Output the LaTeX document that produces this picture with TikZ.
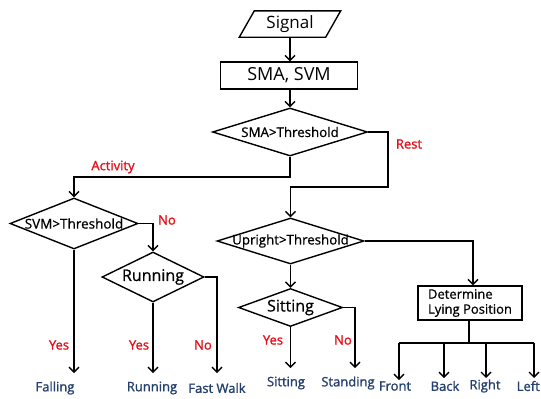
\documentclass[tikz,border=0pt]{standalone}
\usepackage{fontspec}
\setmainfont{Open Sans}
\newfontfamily\semib[FakeBold=1.3]{Open Sans}
\newfontfamily\medb[FakeBold=0.7]{Open Sans}
\usetikzlibrary{arrows.meta,shapes.geometric}
\definecolor{redlbl}{HTML}{E5101A}
\definecolor{bluelbl}{HTML}{24406E}
\tikzset{
  ln/.style={line width=1.4pt,black},
  arr/.style={ln,-{Straight Barb[length=5pt,width=10pt]}},
  dec/.style={diamond,draw,line width=1.4pt,inner sep=0pt,aspect=2},
  procbox/.style={rectangle,draw,line width=1.4pt,inner sep=0pt},
  redtxt/.style={text=redlbl,font=\semib\fontsize{13}{15}\selectfont,inner sep=0pt},
  outtxt/.style={text=bluelbl,font=\semib\fontsize{13}{15}\selectfont,inner sep=0pt},
}
\begin{document}
\begin{tikzpicture}[x=1pt,y=-1pt]
\useasboundingbox (0,0) rectangle (541,399);
% Signal parallelogram
\node (sig) [minimum width=86pt,minimum height=26pt,inner sep=0pt,font=\fontsize{17}{20}\selectfont] at (290,24) {Signal};
\draw[ln] ([xshift=7.5pt]sig.north west) -- ([xshift=7.5pt]sig.north east) -- ([xshift=-7.5pt]sig.south east) -- ([xshift=-7.5pt]sig.south west) -- cycle;
% SMA, SVM box
\node (calc) [procbox,minimum width=137pt,minimum height=27pt,font=\fontsize{18}{20}\selectfont] at (289,75.5) {SMA, SVM};
% diamonds
\node (sma) [dec,minimum width=155pt,minimum height=48pt] at (290,132) {\makebox[0pt]{\medb\fontsize{13.3}{15}\selectfont SMA>Threshold}};
\node (svm) [dec,minimum width=128pt,minimum height=51pt] at (74,223.5) {\makebox[0pt]{\medb\fontsize{13.5}{15}\selectfont SVM>Threshold}};
\node (run) [dec,minimum width=102pt,minimum height=50pt] at (153,277) {\makebox[0pt]{\medb\fontsize{16}{18}\selectfont Running}};
\node (up) [dec,minimum width=147pt,minimum height=46pt] at (290.5,241) {\makebox[0pt]{\medb\fontsize{13.3}{15}\selectfont Upright>Threshold}};
\node (sit) [dec,minimum width=104pt,minimum height=38pt] at (290.5,307.5) {\makebox[0pt]{\medb\fontsize{16}{18}\selectfont Sitting}};
% Determine box
\node (det) [procbox,minimum width=104pt,minimum height=34pt,font=\medb\fontsize{13}{15}\selectfont,align=left] at (470,303) {Determine\\Lying Position};
% junctions and ends
\coordinate (jact) at (290,177);
\coordinate (jrest) at (388,187);
\coordinate (tfall) at (74,373);
\coordinate (trun) at (153,373);
\coordinate (tfast) at (217,373);
\coordinate (tsit) at (290.5,368);
\coordinate (tstand) at (355,368);
\coordinate (jdet) at (469,343);
\coordinate (bl) at (399,343);
\coordinate (br) at (534,343);
\coordinate (tfront) at (399,380);
\coordinate (tback) at (444,378);
\coordinate (tright) at (486,378);
\coordinate (tleft) at (534,378);
% connectors
\draw[arr] (sig.south) -- (sig.south |- calc.north);
\draw[arr] (calc.south -| sma.north) -- (sma.north);
\draw[arr] (sma.south) -- (jact) -| (svm.north);
\draw[arr] (sma.east) -| (jrest) -| (up.north);
\draw[arr] (svm.east) -| (run.north);
\draw[arr] (svm.south) -- (tfall);
\draw[arr] (run.south) -- (trun);
\draw[arr] (run.east) -| (tfast);
\draw[arr] (up.south) -- (sit.north);
\draw[arr] (up.east) -| ([xshift=3pt]det.north);
\draw[arr] (sit.south) -- (tsit);
\draw[arr] (sit.east) -| (tstand);
\draw[ln] (det.south -| jdet) -- (jdet);
\draw[ln] (bl) -- (br);
\draw[arr] (bl) -- (tfront);
\draw[arr] (bl -| tback) -- (tback);
\draw[arr] (bl -| tright) -- (tright);
\draw[arr] (br) -- (tleft);
% red labels
\node (lact) [redtxt] at (113,167) {Activity};
\node (lrest) [redtxt] at (409,144) {Rest};
\node (lno1) [redtxt] at (167,220) {No};
\node (lyes1) [redtxt] at (59,345) {Yes};
\node (lyes2) [redtxt] at (139,345) {Yes};
\node (lno2) [redtxt] at (203,345) {No};
\node (lyes3) [redtxt] at (273,340) {Yes};
\node (lno3) [redtxt] at (343,340) {No};
% outputs
\node (ofall) [outtxt] at (55,388) {Falling};
\node (orun) [outtxt] at (152,388) {Running};
\node (ofast) [outtxt] at (217,388) {Fast Walk};
\node (osit) [outtxt] at (286,383) {Sitting};
\node (ostand) [outtxt] at (348,383) {Standing};
\node (ofront) [outtxt] at (395,386) {Front};
\node (oback) [outtxt] at (445,386) {Back};
\node (oright) [outtxt] at (485,386) {Right};
\node (oleft) [outtxt,anchor=east] at (540,386) {Left};
\end{tikzpicture}
\end{document}
